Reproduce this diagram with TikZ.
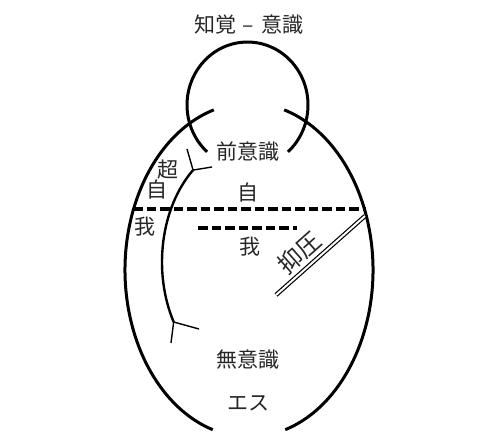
\documentclass[tikz,border=0pt]{standalone}
\usepackage{fontspec}
\setmainfont{Noto Sans CJK JP}
\usetikzlibrary{positioning}

\begin{document}
\begin{tikzpicture}[x=1pt, y=1pt,
        word/.style={font=\fontsize{21}{24}\selectfont, text=black!85, inner sep=0pt},
        outline/.style={line width=3pt},
        ego line/.style={line width=2.4pt},
        fork/.style={line width=1.4pt},
        cut line/.style={line width=3.5pt, dash pattern=on 9.5pt off 4pt},
        repression/.style={double, double distance=2pt, line width=1.2pt}]
        \useasboundingbox (0, 0) rectangle (500, 439);

        % perception - consciousness
        \draw [outline] ([shift={(-48:60.5 and 63)}]247.5, 334) arc [start angle=-48, end angle=228, x radius=60.5, y radius=63];
        % the psyche
        \draw [outline] ([shift={(106.5:124 and 167)}]249, 169) arc [start angle=106.5, end angle=253, x radius=124, y radius=167];
        \draw [outline] ([shift={(-73:124 and 167)}]249, 169) arc [start angle=-73, end angle=73.5, x radius=124, y radius=167];
        % super-ego
        \draw [ego line] ([shift={(130:87 and 120)}]249, 177) coordinate (top fork) arc [start angle=130, end angle=210, x radius=87, y radius=120] coordinate (bottom fork);

        \coordinate (top up) at (187, 290);
        \coordinate (top right) at (212, 272);
        \coordinate (bottom down) at (171, 96);
        \coordinate (bottom right) at (199, 110);
        \draw [fork] (top fork) -- (top up);
        \draw [fork] (top fork) -- (top right);
        \draw [fork] (bottom fork) -- (bottom down);
        \draw [fork] (bottom fork) -- (bottom right);

        \coordinate (cut left) at (133, 230);
        \coordinate (cut right) at (366, 230);
        \coordinate (ego left) at (198, 211);
        \coordinate (ego right) at (297, 211);
        \draw [cut line] (cut left) -- (cut right);
        \draw [cut line] (ego left) -- (ego right);

        \coordinate (rep top) at (365, 223);
        \coordinate (rep bottom) at (276, 144);
        \draw [repression] (rep bottom) -- (rep top);

        \node [word] (percept) at (249, 414) {知覚\hspace{6pt}–\hspace{8pt}意識};
        \node [word] (precons) at (247.5, 287) {前意識};
        \node [word] (uber) at (168, 269) {超};
        \node [word] (self left) at (157, 249) {自};
        \node [word] (ego left) at (145, 212) {我};
        \node [word] (self mid) at (248, 246) {自};
        \node [word] (ego mid) at (250, 192) {我};
        \node [word, font=\fontsize{24}{26}\selectfont, rotate=41.6] (repress) at (299, 186) {抑圧};
        \node [word] (uncons) at (248, 79) {無意識};
        \node [word] (es) at (248, 36) {エス};
    \end{tikzpicture}
\end{document}
